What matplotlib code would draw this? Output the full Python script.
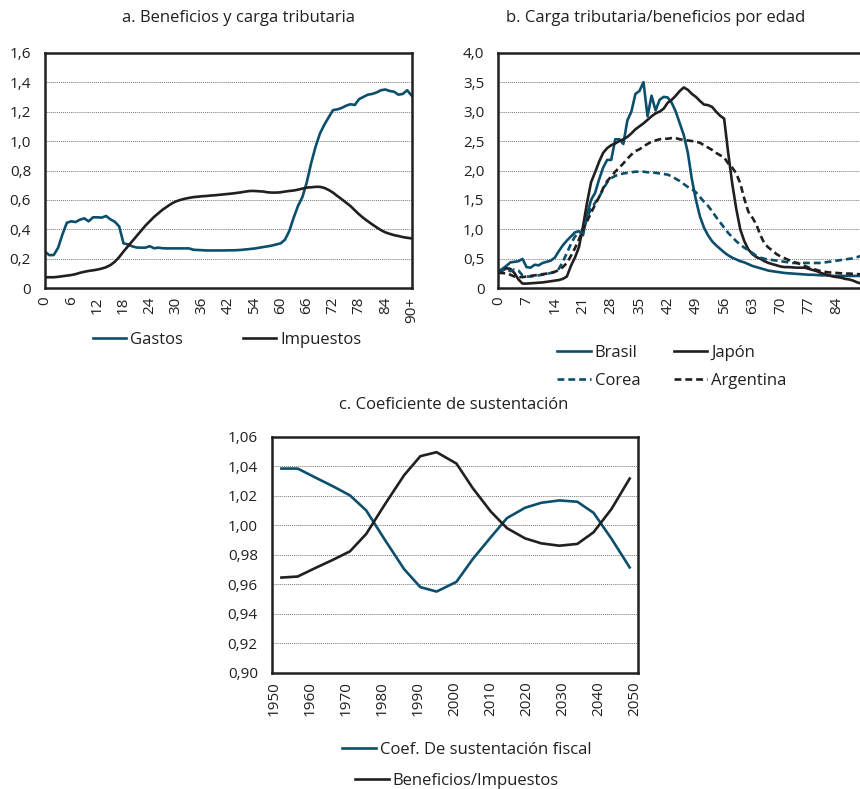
import matplotlib
matplotlib.use('Agg')
import matplotlib.pyplot as plt
from matplotlib.lines import Line2D

plt.rcParams['font.family'] = ['Open Sans', 'DejaVu Sans']

AZUL = '#0b4f6c'
NEGRO = '#231f20'
GUION = (0, (2.6, 1.5))

# ---- a. Beneficios y carga tributaria (85 categorias de edad) ----
etiquetas_a = ['0', '6', '12', '18', '24', '30', '36', '42', '54', '60',
               '66', '72', '78', '84', '90+']
gastos = [
    0.248, 0.225, 0.226, 0.275, 0.366, 0.445, 0.455, 0.450, 0.466, 0.475,
    0.455, 0.482, 0.482, 0.480, 0.491, 0.468, 0.452, 0.420, 0.305, 0.298,
    0.285, 0.277, 0.276, 0.276, 0.286, 0.272, 0.276, 0.272, 0.271, 0.271,
    0.271, 0.271, 0.271, 0.271, 0.262, 0.260, 0.259, 0.257, 0.257, 0.257,
    0.257, 0.257, 0.258, 0.258, 0.259, 0.261, 0.264, 0.267, 0.270, 0.275,
    0.280, 0.285, 0.290, 0.298, 0.305, 0.330, 0.390, 0.480, 0.560, 0.620,
    0.720, 0.850, 0.960, 1.050, 1.110, 1.160, 1.210, 1.215, 1.225, 1.240,
    1.250, 1.245, 1.285, 1.300, 1.315, 1.320, 1.330, 1.345, 1.350, 1.340,
    1.335, 1.315, 1.320, 1.345, 1.310]
impuestos = [
    0.075, 0.075, 0.075, 0.078, 0.082, 0.086, 0.090, 0.096, 0.105, 0.112,
    0.118, 0.122, 0.127, 0.134, 0.143, 0.158, 0.180, 0.212, 0.250, 0.285,
    0.320, 0.355, 0.390, 0.425, 0.455, 0.485, 0.510, 0.535, 0.555, 0.575,
    0.590, 0.600, 0.608, 0.614, 0.619, 0.622, 0.625, 0.627, 0.630, 0.632,
    0.635, 0.638, 0.641, 0.644, 0.648, 0.652, 0.657, 0.661, 0.661, 0.659,
    0.657, 0.652, 0.650, 0.650, 0.652, 0.657, 0.661, 0.664, 0.670, 0.677,
    0.684, 0.686, 0.689, 0.689, 0.682, 0.668, 0.650, 0.627, 0.605, 0.582,
    0.559, 0.530, 0.502, 0.477, 0.455, 0.434, 0.414, 0.395, 0.380, 0.370,
    0.361, 0.355, 0.348, 0.343, 0.339]

# ---- b. Carga tributaria/beneficios por edad (edades 0-90) ----
etiquetas_b = ['0', '7', '14', '21', '28', '35', '42', '49', '56', '63',
               '70', '77', '84']
brasil = [
    0.29, 0.33, 0.38, 0.44, 0.45, 0.46, 0.50, 0.36, 0.35, 0.40,
    0.39, 0.43, 0.45, 0.47, 0.52, 0.63, 0.73, 0.81, 0.88, 0.95,
    0.97, 0.90, 1.25, 1.50, 1.62, 1.85, 2.05, 2.18, 2.18, 2.53,
    2.53, 2.45, 2.85, 3.00, 3.30, 3.35, 3.50, 2.92, 3.27, 3.02,
    3.20, 3.25, 3.24, 3.15, 3.00, 2.80, 2.60, 2.30, 1.85, 1.50,
    1.22, 1.03, 0.90, 0.80, 0.73, 0.67, 0.61, 0.56, 0.52, 0.49,
    0.46, 0.44, 0.41, 0.38, 0.36, 0.34, 0.32, 0.30, 0.29, 0.28,
    0.27, 0.26, 0.255, 0.25, 0.245, 0.24, 0.235, 0.23, 0.23, 0.225,
    0.22, 0.22, 0.215, 0.21, 0.21, 0.21, 0.21, 0.21, 0.21, 0.21, 0.21]
japon = [
    0.25, 0.30, 0.34, 0.33, 0.26, 0.15, 0.08, 0.08, 0.085, 0.09,
    0.095, 0.10, 0.11, 0.12, 0.13, 0.14, 0.16, 0.20, 0.38, 0.52,
    0.70, 1.05, 1.45, 1.80, 1.97, 2.15, 2.30, 2.38, 2.43, 2.46,
    2.50, 2.53, 2.57, 2.63, 2.70, 2.75, 2.80, 2.86, 2.92, 2.97,
    3.00, 3.05, 3.15, 3.20, 3.27, 3.35, 3.41, 3.37, 3.30, 3.25,
    3.18, 3.12, 3.11, 3.08, 3.00, 2.93, 2.88, 2.30, 1.78, 1.35,
    1.00, 0.80, 0.66, 0.58, 0.53, 0.50, 0.46, 0.43, 0.41, 0.39,
    0.37, 0.36, 0.36, 0.355, 0.35, 0.35, 0.35, 0.33, 0.31, 0.29,
    0.26, 0.24, 0.22, 0.20, 0.19, 0.18, 0.16, 0.15, 0.13, 0.10, 0.08]
corea = [
    0.28, 0.31, 0.33, 0.29, 0.32, 0.30, 0.22, 0.20, 0.20, 0.21,
    0.22, 0.23, 0.24, 0.26, 0.28, 0.33, 0.45, 0.60, 0.75, 0.88,
    0.93, 0.95, 1.20, 1.35, 1.45, 1.55, 1.68, 1.80, 1.87, 1.91,
    1.93, 1.95, 1.96, 1.97, 1.98, 1.98, 1.98, 1.97, 1.97, 1.96,
    1.95, 1.94, 1.93, 1.90, 1.86, 1.82, 1.77, 1.72, 1.68, 1.63,
    1.55, 1.47, 1.40, 1.31, 1.21, 1.12, 1.03, 0.94, 0.87, 0.80,
    0.74, 0.69, 0.65, 0.60, 0.55, 0.52, 0.50, 0.49, 0.48, 0.47,
    0.46, 0.45, 0.44, 0.43, 0.43, 0.43, 0.43, 0.43, 0.43, 0.43,
    0.43, 0.44, 0.45, 0.46, 0.47, 0.48, 0.49, 0.50, 0.51, 0.53, 0.55]
argentina = [
    0.26, 0.26, 0.25, 0.23, 0.20, 0.19, 0.19, 0.20, 0.21, 0.22,
    0.23, 0.24, 0.25, 0.26, 0.28, 0.31, 0.36, 0.43, 0.55, 0.68,
    0.83, 1.00, 1.14, 1.28, 1.42, 1.55, 1.70, 1.82, 1.90, 1.98,
    2.05, 2.12, 2.20, 2.27, 2.33, 2.36, 2.41, 2.45, 2.49, 2.51,
    2.53, 2.54, 2.54, 2.55, 2.55, 2.53, 2.52, 2.51, 2.50, 2.49,
    2.47, 2.43, 2.39, 2.35, 2.30, 2.26, 2.22, 2.12, 2.05, 1.95,
    1.78, 1.52, 1.30, 1.20, 1.08, 0.90, 0.76, 0.69, 0.64, 0.58,
    0.54, 0.51, 0.48, 0.45, 0.43, 0.41, 0.38, 0.35, 0.33, 0.31,
    0.29, 0.28, 0.27, 0.265, 0.26, 0.255, 0.25, 0.25, 0.245, 0.24, 0.24]

# ---- c. Coeficiente de sustentacion ----
anios = [1952, 1956.5, 1961.5, 1966.5, 1971, 1975.5, 1980.5, 1986, 1990.5, 1995,
         2000.5, 2005, 2010, 2014.5, 2019.5, 2024, 2029, 2034, 2038.5, 2043.5, 2048.5]
coef_fiscal = [1.0384, 1.0384, 1.0322, 1.0261, 1.0202, 1.0100, 0.9907, 0.9702, 0.9580, 0.9550,
               0.9616, 0.9770, 0.9918, 1.0048, 1.0118, 1.0152, 1.0168, 1.0159, 1.0084, 0.9907,
               0.9714]
benef_imp = [0.9645, 0.9652, 0.9711, 0.9768, 0.9823, 0.9941, 1.0135, 1.0339, 1.0468, 1.0495,
             1.0418, 1.0252, 1.0093, 0.9980, 0.9911, 0.9877, 0.9861, 0.9873, 0.9952, 1.0111,
             1.0316]


def estilo(ax, yticks, ylabels):
    ax.set_yticks(yticks)
    ax.set_yticklabels(ylabels)
    ax.yaxis.grid(True, linestyle=(0, (1, 1)), color='#777777', linewidth=0.7)
    ax.set_axisbelow(True)
    for s in ax.spines.values():
        s.set_color(NEGRO)
        s.set_linewidth(1.8)
    ax.tick_params(length=0, labelsize=11, colors=NEGRO)
    ax.tick_params(axis='y', pad=10)
    ax.tick_params(axis='x', pad=6)


fig = plt.figure(figsize=(8.6, 7.89), dpi=100)
W, H = 860.0, 789.0

# panel a
ax1 = fig.add_axes([45 / W, 1 - 288.3 / H, 366.5 / W, 235.6 / H])
pos_a = list(range(len(gastos)))
ax1.plot(pos_a, gastos, color=AZUL, lw=1.9)
ax1.plot(pos_a, impuestos, color=NEGRO, lw=1.9)
ax1.set_xlim(0, 84)
ax1.set_ylim(0, 1.6)
ax1.set_xticks(range(0, 85, 6))
ax1.set_xticklabels(etiquetas_a, rotation=90)
estilo(ax1, [0, 0.2, 0.4, 0.6, 0.8, 1.0, 1.2, 1.4, 1.6],
       ['0', '0,2', '0,4', '0,6', '0,8', '1,0', '1,2', '1,4', '1,6'])

# panel b (el marco derecho queda fuera de la figura, como en el original)
ax2 = fig.add_axes([498.3 / W, 1 - 288.3 / H, 367 / W, 235.6 / H])
pos_b = list(range(len(brasil)))
ax2.plot(pos_b, brasil, color=AZUL, lw=1.9)
ax2.plot(pos_b, japon, color=NEGRO, lw=1.9)
ax2.plot(pos_b, corea, color=AZUL, lw=1.9, ls=GUION)
ax2.plot(pos_b, argentina, color=NEGRO, lw=1.9, ls=GUION)
ax2.set_xlim(0, 91)
ax2.set_ylim(0, 4.0)
ax2.set_xticks(range(0, 85, 7))
ax2.set_xticklabels(etiquetas_b, rotation=90)
estilo(ax2, [0, 0.5, 1.0, 1.5, 2.0, 2.5, 3.0, 3.5, 4.0],
       ['0', '0,5', '1,0', '1,5', '2,0', '2,5', '3,0', '3,5', '4,0'])

# panel c
ax3 = fig.add_axes([271.7 / W, 1 - 672.7 / H, 366.6 / W, 236 / H])
ax3.plot(anios, coef_fiscal, color=AZUL, lw=1.9)
ax3.plot(anios, benef_imp, color=NEGRO, lw=1.9)
ax3.set_xlim(1949.3, 2050.9)
ax3.set_ylim(0.90, 1.06)
ax3.set_xticks(range(1950, 2051, 10))
ax3.set_xticklabels([str(a) for a in range(1950, 2051, 10)], rotation=90)
yt = [0.90, 0.92, 0.94, 0.96, 0.98, 1.00, 1.02, 1.04, 1.06]
estilo(ax3, yt, [f'{v:.2f}'.replace('.', ',') for v in yt])

# titulos
fig.text(238 / W, 1 - 18 / H, 'a. Beneficios y carga tributaria', ha='center', va='center',
         fontsize=12, color=NEGRO)
fig.text(656 / W, 1 - 18 / H, 'b. Carga tributaria/beneficios por edad', ha='center', va='center',
         fontsize=12, color=NEGRO)
fig.text(454 / W, 1 - 405 / H, 'c. Coeficiente de sustentación', ha='center', va='center',
         fontsize=12, color=NEGRO)

# leyendas
def h(color, ls='-'):
    return Line2D([], [], color=color, lw=1.9, ls=ls)

kw = dict(frameon=False, fontsize=12, handlelength=2.0, handletextpad=0.25,
          borderpad=0, borderaxespad=0, labelcolor=NEGRO)
fig.legend([h(AZUL), h(NEGRO)], ['Gastos', 'Impuestos'], loc='center', ncol=2,
           columnspacing=3.6, bbox_to_anchor=(227 / W, 1 - 340 / H), **kw)
fig.legend([h(AZUL), h(AZUL, GUION), h(NEGRO), h(NEGRO, GUION)],
           ['Brasil', 'Corea', 'Japón', 'Argentina'], loc='center', ncol=2,
           columnspacing=2.0, labelspacing=0.75, bbox_to_anchor=(672 / W, 1 - 367 / H), **kw)
fig.legend([h(AZUL)], ['Coef. De sustentación fiscal'], loc='center',
           bbox_to_anchor=(467 / W, 1 - 750 / H), **kw)
fig.legend([h(NEGRO)], ['Beneficios/Impuestos'], loc='center',
           bbox_to_anchor=(457 / W, 1 - 781 / H), **kw)

fig.savefig('out.png', dpi=100)
